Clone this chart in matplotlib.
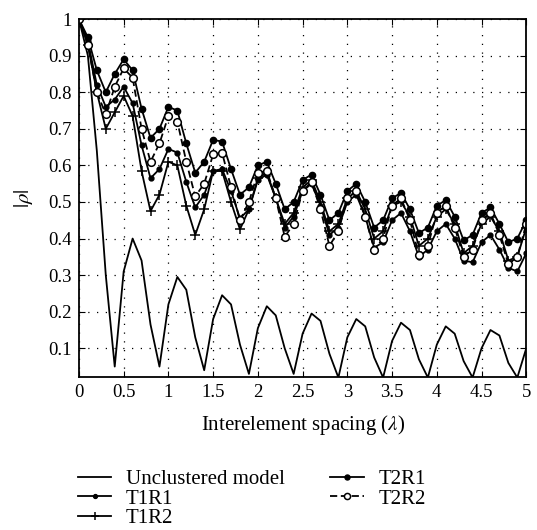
import numpy as np
import matplotlib.pyplot as plt

# spacing in wavelengths, sampled every 0.1
spacing = [round(0.1 * i, 1) for i in range(51)]

unclustered = [1.00, 0.90, 0.64, 0.30, 0.05, 0.31, 0.40, 0.34, 0.165, 0.05,
               0.22, 0.295, 0.26, 0.13, 0.04, 0.18, 0.245, 0.22, 0.11, 0.03,
               0.155, 0.215, 0.19, 0.10, 0.03, 0.14, 0.195, 0.175, 0.085, 0.02,
               0.13, 0.18, 0.16, 0.075, 0.02, 0.12, 0.17, 0.15, 0.07, 0.02,
               0.11, 0.16, 0.14, 0.065, 0.02, 0.10, 0.15, 0.135, 0.06, 0.02,
               0.10]

t1r1 = [1.00, 0.94, 0.82, 0.76, 0.78, 0.815, 0.77, 0.655, 0.565, 0.59,
        0.645, 0.635, 0.555, 0.485, 0.52, 0.585, 0.59, 0.53, 0.455, 0.48,
        0.56, 0.575, 0.51, 0.43, 0.46, 0.53, 0.55, 0.49, 0.41, 0.43,
        0.50, 0.52, 0.46, 0.375, 0.39, 0.45, 0.47, 0.42, 0.35, 0.37,
        0.42, 0.44, 0.40, 0.34, 0.335, 0.39, 0.41, 0.37, 0.32, 0.31,
        0.36]

t1r2 = [1.00, 0.93, 0.80, 0.70, 0.745, 0.79, 0.735, 0.585, 0.475, 0.52,
        0.61, 0.60, 0.49, 0.41, 0.48, 0.585, 0.585, 0.50, 0.425, 0.48,
        0.565, 0.58, 0.51, 0.44, 0.47, 0.54, 0.56, 0.50, 0.42, 0.44,
        0.51, 0.53, 0.48, 0.40, 0.42, 0.49, 0.50, 0.46, 0.38, 0.40,
        0.46, 0.48, 0.44, 0.36, 0.38, 0.44, 0.46, 0.42, 0.34, 0.35,
        0.43]

t2r1 = [1.00, 0.95, 0.86, 0.80, 0.85, 0.89, 0.86, 0.755, 0.675, 0.70,
        0.76, 0.75, 0.66, 0.58, 0.61, 0.67, 0.665, 0.59, 0.52, 0.54,
        0.60, 0.61, 0.55, 0.48, 0.50, 0.56, 0.575, 0.52, 0.45, 0.47,
        0.53, 0.55, 0.50, 0.43, 0.45, 0.51, 0.525, 0.48, 0.415, 0.43,
        0.49, 0.505, 0.46, 0.395, 0.41, 0.47, 0.485, 0.44, 0.39, 0.40,
        0.45]

t2r2 = [1.00, 0.93, 0.80, 0.74, 0.815, 0.865, 0.84, 0.70, 0.61, 0.66,
        0.735, 0.72, 0.61, 0.515, 0.55, 0.63, 0.635, 0.54, 0.45, 0.50,
        0.58, 0.585, 0.51, 0.405, 0.44, 0.53, 0.555, 0.48, 0.38, 0.42,
        0.51, 0.53, 0.46, 0.37, 0.40, 0.49, 0.51, 0.45, 0.355, 0.38,
        0.47, 0.49, 0.43, 0.35, 0.37, 0.45, 0.47, 0.41, 0.33, 0.35,
        0.44]

xticks = [0, 0.5, 1, 1.5, 2, 2.5, 3, 3.5, 4, 4.5, 5]
xticklabels = ["0", "0.5", "1", "1.5", "2", "2.5", "3", "3.5", "4", "4.5", "5"]
yticks = [0.1, 0.2, 0.3, 0.4, 0.5, 0.6, 0.7, 0.8, 0.9, 1]
yticklabels = ["0.1", "0.2", "0.3", "0.4", "0.5", "0.6", "0.7", "0.8", "0.9", "1"]

plt.rcParams['font.family'] = ['Liberation Serif', 'DejaVu Serif']
plt.rcParams['mathtext.fontset'] = 'stix'

fig = plt.figure(figsize=(5.37, 5.30), dpi=100)
ax = fig.add_axes([0.147, 0.289, 0.833, 0.675])

lw = 1.3
ax.plot(spacing, unclustered, color='black', lw=lw, label='Unclustered model')
ax.plot(spacing, t1r1, color='black', lw=lw, marker='o', ms=3.5, label='T1R1')
ax.plot(spacing, t1r2, color='black', lw=lw, marker='+', ms=7, mew=1.1, label='T1R2')
ax.plot(spacing, t2r1, color='black', lw=lw, marker='o', ms=4.5, label='T2R1')
ax.plot(spacing, t2r2, color='black', lw=lw, ls=(0, (4, 2)), marker='o', ms=5.5,
        mfc='white', mew=1.1, label='T2R2')

ax.set_xlim(0, 5)
ax.set_ylim(0.022, 1)
ax.set_xticks(xticks)
ax.set_xticklabels(xticklabels)
ax.set_yticks(yticks)
ax.set_yticklabels(yticklabels)
ax.tick_params(direction='in', top=True, right=True, labelsize=13.5, length=4, pad=5)
ax.grid(True, color='black', ls=(0, (1, 6)), lw=0.9)
for s in ax.spines.values():
    s.set_linewidth(1.3)

ax.set_xlabel(r'Interelement spacing ($\lambda$)', fontsize=15, labelpad=9)
ax.set_ylabel(r'$|\rho|$', fontsize=15, labelpad=10)

leg = fig.legend(loc='upper left', bbox_to_anchor=(0.145, 0.114), ncol=2,
                 frameon=False, fontsize=15, handlelength=1.6,
                 columnspacing=2.2, labelspacing=0.0, handletextpad=0.7,
                 borderaxespad=0, borderpad=0, markerscale=0.8)

fig.savefig('out.png', dpi=100)
